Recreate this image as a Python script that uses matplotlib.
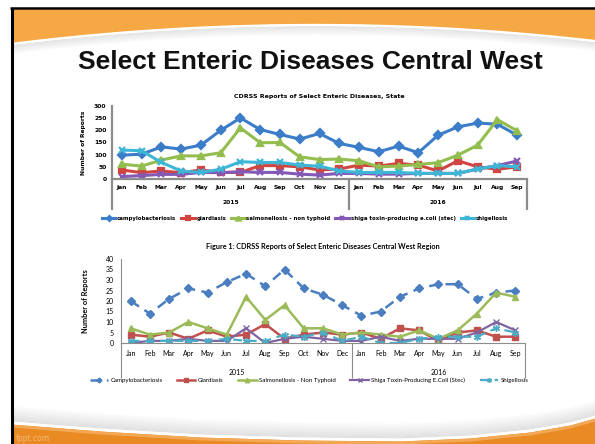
import numpy as np
import matplotlib.pyplot as plt
from matplotlib.transforms import blended_transform_factory

# ---------------------------------------------------------------- data
months = ["Jan", "Feb", "Mar", "Apr", "May", "Jun", "Jul", "Aug", "Sep", "Oct", "Nov", "Dec",
          "Jan", "Feb", "Mar", "Apr", "May", "Jun", "Jul", "Aug", "Sep"]
years = ["2015", "2016"]
year_lengths = [12, 9]

state_labels = ["campylobacteriosis", "giardiasis", "salmonellosis - non typhoid",
                "shiga toxin-producing e.coli (stec)", "shigellosis"]
state_campy = [98, 102, 132, 123, 139, 200, 251, 203, 183, 164, 187, 146,
               130, 112, 135, 108, 180, 214, 230, 225, 180]
state_giard = [37, 26, 33, 26, 37, 27, 27, 55, 55, 50, 37, 41,
               57, 53, 64, 57, 33, 75, 50, 40, 50]
state_salmo = [61, 53, 78, 95, 95, 108, 210, 149, 150, 91, 80, 82,
               75, 50, 53, 60, 67, 98, 139, 244, 198]
state_stec = [10, 14, 19, 19, 27, 26, 30, 27, 27, 20, 16, 23,
              23, 20, 20, 23, 23, 23, 41, 55, 74]
state_shig = [119, 116, 68, 33, 27, 40, 71, 68, 68, 57, 53, 33,
              27, 27, 27, 23, 23, 23, 41, 55, 50]

region_labels = ["Campylobacteriosis", "Giardiasis", "Salmonellosis - Non Typhoid",
                 "Shiga Toxin-Producing E.Coli (Stec)", "Shigellosis"]
region_campy = [20, 14, 21, 26, 24, 29, 33, 27, 35, 26, 23, 18,
                13, 15, 22, 26, 28, 28, 21, 24, 25]
region_giard = [4, 3, 5, 2, 6, 3, 4, 9, 2, 4, 5, 4,
                5, 2, 7, 6, 1, 5, 6, 3, 3]
region_salmo = [7, 4, 5, 10, 7, 4, 22, 11, 18, 7, 7, 4,
                5, 4, 3, 6, 2, 6, 14, 24, 22]
region_stec = [0, 1, 1, 2, 1, 1, 7, 0, 2, 3, 2, 1,
               1, 3, 1, 2, 2, 2, 5, 10, 6]
region_shig = [1, 1, 1, 1, 1, 2, 1, 1, 4, 3, 5, 1,
               3, 0, 0, 2, 3, 3, 3, 7, 5]

W, H = 595, 444
BLUE, RED, GREEN, PURPLE, CYAN = "#3B7DC8", "#D0453F", "#93BE4F", "#8359B5", "#3EB6D6"

fig = plt.figure(figsize=(W / 100, H / 100), dpi=100)

# ---------------------------------------------------------------- slide frame
bg = fig.add_axes([0, 0, 1, 1], zorder=0)
bg.set_xlim(0, W)
bg.set_ylim(H, 0)
bg.axis("off")

xs = np.linspace(11, W, 400)
top_curve = np.polyval(np.polyfit([11, 300, 595], [43, 24, 40], 2), xs)
bg.fill_between(xs, 9, top_curve, color="#F6A845", lw=0, zorder=1)
for i in range(10):
    bg.fill_between(xs, top_curve + 1.5 + i * 0.9, top_curve + 2.5 + i * 0.9,
                    color="#B8B8B8", alpha=0.35 * (1 - i / 10), lw=0, zorder=1)
bg.plot(xs, top_curve + 1, color="white", lw=1.6, zorder=2)

bot_curve = np.interp(xs, [11, 100, 200, 300, 400, 470, 530, 570, 595],
                      [424, 431, 437, 440, 441, 438, 432, 425, 418])
for i in range(14):
    bg.fill_between(xs, bot_curve - 3 - (i + 1) * 1.1, bot_curve - 3 - i * 1.1,
                    color="#B0B0B0", alpha=0.4 * (1 - i / 14), lw=0, zorder=1)
bg.fill_between(xs, bot_curve, H, color="#E98A22", lw=0, zorder=1)
bg.fill_between(xs, bot_curve, bot_curve + 3, color="#F2A854", lw=0, zorder=1)
bg.plot(xs, bot_curve - 1.2, color="white", lw=1.6, zorder=2)
bg.text(16, 438, "fppt.com", fontsize=5.5, color="#F5B878", va="center", ha="left", zorder=3)

bg.plot([10, W], [8.5, 8.5], color="black", lw=1.8, zorder=4, solid_capstyle="butt")
bg.plot([11.5, 11.5], [8, H], color="black", lw=2.2, zorder=4, solid_capstyle="butt")

bg.text(310, 62, "Select Enteric Diseases Central West", fontsize=19, fontweight="bold",
        family="Liberation Sans", ha="center", va="center", color="#111111", zorder=3)


def fpos(left, top, right, bottom):
    return [left / W, 1 - bottom / H, (right - left) / W, (bottom - top) / H]


def year_groups(ax, depth, label_y, fontsize, weight, family):
    tr = blended_transform_factory(ax.transData, ax.transAxes)
    edges = np.concatenate([[0], np.cumsum(year_lengths)]) - 0.5
    for e in edges:
        ax.plot([e, e], [0, -depth], transform=tr, color="#8C8C8C", lw=ax.spines["left"].get_linewidth(),
                clip_on=False, solid_capstyle="butt")
    for yr, a, b in zip(years, edges[:-1], edges[1:]):
        ax.text((a + b) / 2, label_y, yr, transform=tr, ha="center", va="center",
                fontsize=fontsize, fontweight=weight, family=family)


x = np.arange(len(months))

# ---------------------------------------------------------------- state chart
ax1 = fig.add_axes(fpos(112, 106, 527, 179), zorder=5)
ax1.patch.set_alpha(0)
state_series = [state_campy, state_giard, state_salmo, state_stec, state_shig]
state_style = [(BLUE, "D", 3.6), (RED, "s", 4.2), (GREEN, "^", 4.2), (PURPLE, "x", 4.0), (CYAN, "x", 4.0)]
for vals, (c, m, ms), lab in zip(state_series, state_style, state_labels):
    ax1.plot(x, vals, color=c, marker=m, ms=ms, lw=2.2, mew=1.6, label=lab)
ax1.set_xlim(-0.5, len(months) - 0.5)
ax1.set_ylim(0, 300)
ax1.set_yticks(range(0, 301, 50))
ax1.set_xticks(x)
ax1.set_xticklabels(months)
for s in ["top", "right"]:
    ax1.spines[s].set_visible(False)
for s in ["left", "bottom"]:
    ax1.spines[s].set_color("#8C8C8C")
    ax1.spines[s].set_linewidth(1.6)
ax1.tick_params(length=0, labelsize=4.3, pad=4)
for t in ax1.get_xticklabels() + ax1.get_yticklabels():
    t.set_fontweight("bold")
ax1.set_ylabel("Number of Reports", fontsize=4.3, fontweight="bold", labelpad=6)
ax1.set_title("CDRSS Reports of Select Enteric Diseases, State", fontsize=4.5,
              fontweight="bold", pad=6)
year_groups(ax1, 31 / 73, -24 / 73, 4.3, "bold", "DejaVu Sans")
fig.legend(*ax1.get_legend_handles_labels(), loc="center", bbox_to_anchor=(305 / W, 1 - 218 / H),
           ncol=5, frameon=False, handlelength=2.5, columnspacing=0.9, markerscale=0.7,
           handletextpad=0.3, prop={"weight": "bold", "size": 3.9})

# ---------------------------------------------------------------- region chart
ax2 = fig.add_axes(fpos(121, 259, 525, 343), zorder=5)
ax2.patch.set_alpha(0)
region_series = [region_campy, region_giard, region_salmo, region_stec, region_shig]
region_style = [
    dict(color="#4A7EC0", marker="D", ms=3.6, lw=1.8, ls=(0, (4, 2.6))),
    dict(color="#C0504D", marker="s", ms=4.4, lw=1.8, ls="-"),
    dict(color="#9BBB59", marker="^", ms=4.6, lw=1.8, ls="-"),
    dict(color="#8064A2", marker="x", ms=4.4, lw=1.6, ls="-", mew=1.0),
    dict(color="#4BACC6", marker=(6, 2, 0), ms=5.0, lw=1.6, ls=(0, (4, 2.6)), mew=1.0),
]
for vals, st, lab in zip(region_series, region_style, region_labels):
    ax2.plot(x, vals, label=lab, **st)
ax2.set_xlim(-0.5, len(months) - 0.5)
ax2.set_ylim(0, 40)
ax2.set_yticks(range(0, 41, 5))
ax2.set_xticks(x)
ax2.set_xticklabels(months)
for s in ["top", "right"]:
    ax2.spines[s].set_visible(False)
for s in ["left", "bottom"]:
    ax2.spines[s].set_color("#8C8C8C")
    ax2.spines[s].set_linewidth(0.8)
ax2.tick_params(length=0, labelsize=5.0, pad=5)
for t in ax2.get_xticklabels() + ax2.get_yticklabels():
    t.set_family("Lato")
ax2.set_ylabel("Number of Reports", fontsize=5.3, fontweight="bold", family="Lato", labelpad=12)
ax2.set_title("Figure 1: CDRSS Reports of Select Enteric Diseases Central West Region",
              fontsize=5.2, fontweight="bold", family="Lato", pad=7)
year_groups(ax2, 35 / 84, -29 / 84, 5.0, "normal", "Lato")
fig.legend(*ax2.get_legend_handles_labels(), loc="center", bbox_to_anchor=(309 / W, 1 - 380 / H),
           ncol=5, frameon=False, handlelength=3.0, columnspacing=2.4, handletextpad=0.4,
           markerscale=0.7, prop={"family": "Lato", "size": 4.4})

fig.savefig("out.png", dpi=100)
